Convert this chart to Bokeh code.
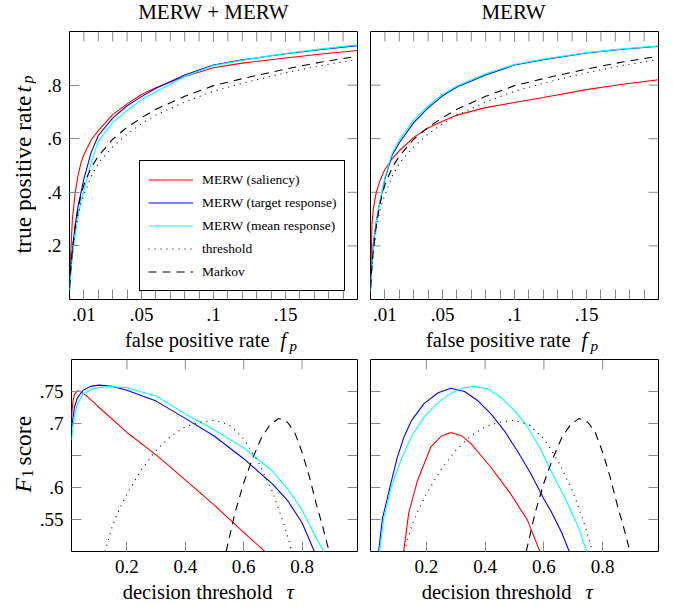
from bokeh.plotting import figure
from bokeh.models import (FixedTicker, Range1d, Label, Legend, LegendItem, CustomJSTickFormatter)
from bokeh.layouts import column, row
from bokeh.embed import file_html
from bokeh.resources import INLINE

FONT = "Liberation Serif"
TICK_COLOR = "#8a8a8a"

# ---------------- ROC data (false positive rate -> true positive rate) ----------------
fp = [0, .001, .002, .004, .006, .008, .01, .015, .02, .03, .04, .05, .06, .08, .1, .12, .15, .175, .2]

roc_mm_saliency = [.05, .19, .30, .40, .465, .51, .54, .595, .63, .69, .73, .765, .79, .832, .865, .882, .901, .916, .929]
roc_mm_target   = [.035, .12, .185, .28, .35, .40, .45, .548, .612, .677, .723, .757, .788, .838, .875, .894, .917, .933, .947]
roc_mm_mean     = [.035, .10, .16, .245, .315, .365, .405, .51, .59, .66, .705, .745, .775, .832, .873, .893, .918, .935, .95]

roc_m_saliency = [.04, .28, .34, .40, .435, .462, .485, .525, .555, .605, .64, .665, .688, .716, .735, .754, .783, .803, .82]
roc_m_target   = [.03, .14, .21, .29, .35, .40, .45, .538, .585, .66, .715, .76, .793, .838, .875, .895, .92, .934, .945]
roc_m_mean     = [.03, .13, .20, .285, .35, .405, .455, .545, .595, .67, .722, .765, .797, .842, .877, .897, .921, .935, .946]

roc_threshold = [.045, .115, .175, .26, .32, .36, .39, .46, .508, .57, .617, .656, .688, .737, .777, .807, .846, .873, .896]
roc_markov    = [.045, .125, .185, .275, .34, .39, .428, .492, .535, .598, .643, .678, .71, .758, .798, .824, .86, .886, .908]

# ---------------- F1 data (decision threshold -> F1 score) ----------------
tau_mm_saliency = [.01, .015, .02, .03, .04, .06, .1, .2, .3, .4, .5, .6, .68]
f1_mm_saliency  = [.71, .735, .745, .751, .750, .744, .727, .686, .651, .612, .572, .530, .497]
tau_mm_target = [.01, .02, .03, .05, .075, .105, .15, .2, .3, .4, .5, .6, .7, .75, .8, .845]
f1_mm_target  = [.692, .725, .74, .752, .758, .760, .758, .752, .735, .708, .68, .645, .605, .58, .545, .497]
tau_mm_mean = [.01, .02, .03, .05, .08, .13, .2, .3, .4, .5, .6, .7, .75, .8, .85, .878]
f1_mm_mean  = [.674, .712, .73, .746, .754, .758, .756, .743, .715, .69, .662, .625, .598, .565, .52, .497]

tau_m_saliency = [.122, .14, .17, .215, .25, .283, .32, .351, .419, .487, .544, .589]
f1_m_saliency  = [.497, .56, .611, .663, .68, .686, .681, .669, .632, .59, .549, .497]
tau_m_target = [.037, .05, .079, .1, .124, .15, .192, .24, .283, .33, .374, .42, .465, .51, .555, .6, .623, .66, .688]
f1_m_target  = [.497, .55, .606, .645, .679, .705, .731, .748, .755, .750, .736, .715, .689, .657, .622, .582, .564, .53, .498]
tau_m_mean = [.04, .056, .08, .113, .15, .192, .24, .283, .32, .363, .41, .453, .5, .544, .585, .623, .66, .692, .72, .747]
f1_m_mean  = [.497, .554, .60, .642, .68, .71, .733, .747, .755, .758, .754, .741, .72, .695, .663, .627, .594, .564, .535, .498]

tau_threshold = [.125, .15, .175, .2, .25, .3, .35, .4, .45, .5, .55, .6, .65, .7, .74, .765]
f1_threshold  = [.50, .54, .567, .59, .628, .658, .68, .695, .702, .705, .698, .676, .64, .592, .54, .50]
tau_markov = [.54, .57, .6, .63, .66, .69, .72, .75, .775, .8, .825, .85, .87, .89]
f1_markov  = [.50, .56, .607, .645, .677, .698, .708, .702, .686, .655, .617, .572, .54, .505]

# ---------------- ticks ----------------
roc_x_range = (0, 0.2)
roc_y_range = (0, 1)
roc_x_ticks = [0.01, 0.05, 0.1, 0.15]
roc_x_labels = [".01", ".05", ".1", ".15"]
roc_x_minor = [i / 100 for i in range(1, 20)]
roc_y_ticks = [0.2, 0.4, 0.6, 0.8]
roc_y_labels = [".2", ".4", ".6", ".8"]

f1_x_range = (0.01, 0.99)
f1_y_range = (0.5, 0.8)
f1_x_ticks = [0.2, 0.4, 0.6, 0.8]
f1_x_labels = ["0.2", "0.4", "0.6", "0.8"]
f1_y_ticks = [0.55, 0.6, 0.65, 0.7, 0.75]
f1_y_labels = [".55", ".6", "", ".7", ".75"]

titles = ["MERW + MERW", "MERW"]
legend_labels = ["MERW (saliency)", "MERW (target response)", "MERW (mean response)", "threshold", "Markov"]
colors = ["#ff0000", "#0000ff", "#00ffff", "black", "black"]
dashes = ["solid", "solid", "solid", "1 5", "8 6"]

FMT_CODE = "const i = vals.findIndex((v) => Math.abs(v - tick) < 1e-9); return i < 0 ? '' : labs[i];"


def style_axis(ax, ticks, labels, minor):
    ax.ticker = FixedTicker(ticks=ticks, minor_ticks=minor)
    ax.formatter = CustomJSTickFormatter(args=dict(vals=ticks, labs=labels), code=FMT_CODE)
    ax.axis_line_color = None
    ax.major_tick_in = 10
    ax.major_tick_out = 0
    ax.minor_tick_in = 10
    ax.minor_tick_out = 0
    ax.major_tick_line_color = TICK_COLOR
    ax.minor_tick_line_color = TICK_COLOR if minor else None
    ax.major_tick_line_width = 1
    ax.minor_tick_line_width = 1
    ax.major_label_text_font = FONT
    ax.major_label_text_font_size = "19px"
    ax.major_label_text_color = "black"
    ax.major_label_standoff = 8
    ax.axis_label = None


def inward_ticks(p, xs, ys, angle):
    p.ray(x=xs, y=ys, length=10, length_units="screen", angle=angle, angle_units="deg",
          line_color=TICK_COLOR, line_width=1)


def make_fig(width, height, borders, xr, yr, xt, xl, xm, yt, yl, show_y):
    l, r, t, b = borders
    p = figure(width=width, height=height, x_range=Range1d(*xr), y_range=Range1d(*yr),
               output_backend="svg", toolbar_location=None, tools="",
               y_axis_location="left" if show_y else None,
               min_border_left=l, min_border_right=r, min_border_top=t, min_border_bottom=b)
    p.xgrid.visible = False
    p.ygrid.visible = False
    p.outline_line_color = "black"
    p.outline_line_width = 1
    p.outline_line_alpha = 1
    p.background_fill_color = "white"
    p.border_fill_color = "white"
    style_axis(p.xaxis[0], xt, xl, xm)
    labelled_y = [v for v, s in zip(yt, yl) if s]
    unlabelled_y = [v for v, s in zip(yt, yl) if not s]
    if show_y:
        style_axis(p.yaxis[0], labelled_y, [s for s in yl if s], [])
        left_extra = unlabelled_y
    else:
        left_extra = list(yt)
    if left_extra:
        inward_ticks(p, [xr[0]] * len(left_extra), left_extra, 0)
    top_x = xm if xm else xt
    inward_ticks(p, top_x, [yr[1]] * len(top_x), -90)
    inward_ticks(p, [xr[1]] * len(yt), yt, 180)
    return p


def strip(width, height):
    s = figure(width=width, height=height, x_range=Range1d(0, width), y_range=Range1d(0, height),
               output_backend="svg", toolbar_location=None, tools="",
               x_axis_type=None, y_axis_type=None,
               min_border_left=0, min_border_right=0, min_border_top=0, min_border_bottom=0)
    s.outline_line_color = None
    s.background_fill_color = "white"
    s.border_fill_color = "white"
    s.xgrid.visible = False
    s.ygrid.visible = False
    return s


MID = 0.3375  # distance from the text box middle to the baseline, as a fraction of the font size


def txt(p, x, y, text, size, italic=False, align="left", vertical=False):
    """(x, y) is the wanted baseline point; the label is anchored at its middle."""
    px = float(size.replace("px", ""))
    if vertical:
        x, angle = x - MID * px, 90
    else:
        y, angle = y + MID * px, 0
    p.add_layout(Label(x=x, y=y, x_units="screen", y_units="screen", text=text,
                       text_font=FONT, text_font_size=size,
                       text_font_style="italic" if italic else "normal",
                       text_align=align, text_baseline="middle",
                       angle=angle, angle_units="deg", text_color="black"))


def draw(p, xs_list, ys_list):
    rs = []
    for xs, ys, c, d in zip(xs_list, ys_list, colors, dashes):
        rs.append(p.line(xs, ys, line_color=c, line_width=1.1, line_dash=d))
    return rs


# columns: left strip 36 | p1 column 327 | p2 column 302
LW, W1, W2 = 36, 327, 302
TOP_TOTAL, BOT_TOTAL = 354, 253
TITLE_H = 24
TOP_H = 7 + 268 + 29              # 304
XH = TOP_TOTAL - TITLE_H - TOP_H  # 26
BOT_H = 5 + 192 + 29              # 226
BXH = BOT_TOTAL - BOT_H           # 27

# ---------------- top row: ROC ----------------
p1 = make_fig(W1, TOP_H, (33, 6, 7, 29), roc_x_range, roc_y_range,
              roc_x_ticks, roc_x_labels, roc_x_minor, roc_y_ticks, roc_y_labels, True)
p2 = make_fig(W2, TOP_H, (7, 7, 7, 29), roc_x_range, roc_y_range,
              roc_x_ticks, roc_x_labels, roc_x_minor, roc_y_ticks, roc_y_labels, False)

r1 = draw(p1, [fp] * 5, [roc_mm_saliency, roc_mm_target, roc_mm_mean, roc_threshold, roc_markov])
draw(p2, [fp] * 5, [roc_m_saliency, roc_m_target, roc_m_mean, roc_threshold, roc_markov])

legend = Legend(items=[LegendItem(label=lab, renderers=[r]) for lab, r in zip(legend_labels, r1)],
                location=(70, 8), margin=0, padding=8, spacing=2,
                glyph_width=45, glyph_height=21, label_height=21, label_standoff=9,
                label_text_font=FONT, label_text_font_size="13.5px", label_text_color="black",
                border_line_color="black", border_line_width=1, border_line_alpha=1,
                background_fill_color="white", background_fill_alpha=1)
p1.add_layout(legend)

# strips stacked with a plot share that plot's frame edges, so x is measured from the frame's left
t1, t2 = strip(W1, TITLE_H), strip(W2, TITLE_H)
txt(t1, 144, TITLE_H - 19, titles[0], "21px", align="center")
txt(t2, 143, TITLE_H - 19, titles[1], "21px", align="center")

x1, x2 = strip(W1, XH), strip(W2, XH)
for s in (x1, x2):
    txt(s, 200, TOP_TOTAL - 346.5, "false positive rate", "20.5px", align="right")
    txt(s, 211, TOP_TOTAL - 346.5, "f", "20.5px", italic=True)
    txt(s, 220, TOP_TOTAL - 350.5, "p", "15px", italic=True)

ly1 = strip(LW, TOP_TOTAL)
txt(ly1, 30, TOP_TOTAL - 95, "true positive rate", "23.5px", align="right", vertical=True)
txt(ly1, 30, TOP_TOTAL - 92, "t", "23.5px", italic=True, vertical=True)
txt(ly1, 32.5, TOP_TOTAL - 83, "p", "16px", italic=True, vertical=True)

# ---------------- bottom row: F1 ----------------
p3 = make_fig(W1, BOT_H, (33, 6, 5, 29), f1_x_range, f1_y_range,
              f1_x_ticks, f1_x_labels, [], f1_y_ticks, f1_y_labels, True)
p4 = make_fig(W2, BOT_H, (7, 7, 5, 29), f1_x_range, f1_y_range,
              f1_x_ticks, f1_x_labels, [], f1_y_ticks, f1_y_labels, False)

draw(p3, [tau_mm_saliency, tau_mm_target, tau_mm_mean, tau_threshold, tau_markov],
     [f1_mm_saliency, f1_mm_target, f1_mm_mean, f1_threshold, f1_markov])
draw(p4, [tau_m_saliency, tau_m_target, tau_m_mean, tau_threshold, tau_markov],
     [f1_m_saliency, f1_m_target, f1_m_mean, f1_threshold, f1_markov])

x3, x4 = strip(W1, BXH), strip(W2, BXH)
for s in (x3, x4):
    txt(s, 201, 607 - 598.5, "decision threshold", "20.5px", align="right")
    txt(s, 215, 607 - 598.5, "\u03c4", "20.5px", italic=True)

ly2 = strip(LW, BOT_TOTAL)
txt(ly2, 30, 607 - 492, "F", "23.5px", italic=True, vertical=True)
txt(ly2, 32.5, 607 - 477, "1", "16px", vertical=True)
txt(ly2, 30, 607 - 465, "score", "23.5px", vertical=True)

top = row(ly1, column(t1, p1, x1), column(t2, p2, x2))
bottom = row(ly2, column(p3, x3), column(p4, x4))
layout = column(top, bottom)
open("out.html", "w").write(file_html(layout, INLINE))
